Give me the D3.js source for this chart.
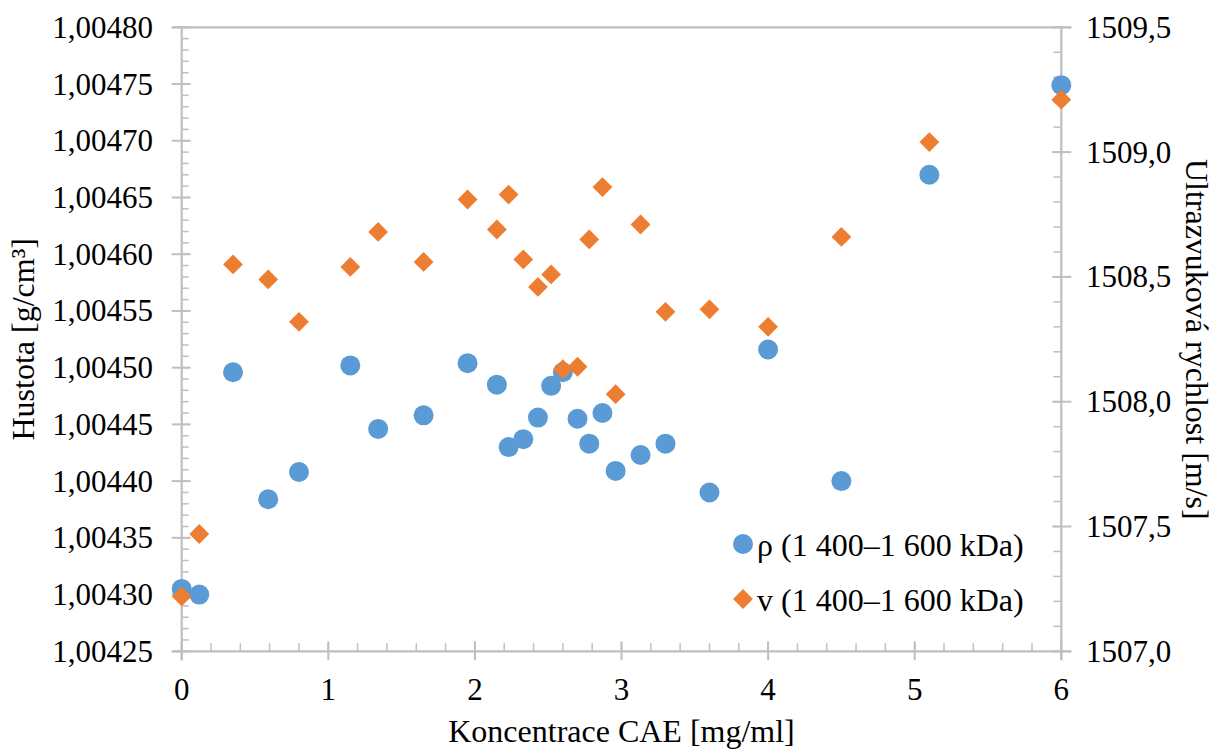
<!DOCTYPE html>
<html>
<head>
<meta charset="utf-8">
<script src="https://cdn.jsdelivr.net/npm/d3@7"></script>
<style>
  html, body { margin: 0; padding: 0; background: #fff; }
  svg { display: block; font-family: "Liberation Serif", "Times New Roman", serif; }
</style>
</head>
<body>
<svg id="chart" width="1214" height="749"></svg>
<script>
// Concentration of CAE [mg/ml]
const concentration = [0, 0.12, 0.35, 0.59, 0.80, 1.15, 1.34, 1.65, 1.95, 2.15, 2.23, 2.33, 2.43,
  2.52, 2.60, 2.70, 2.78, 2.87, 2.96, 3.13, 3.30, 3.60, 4.00, 4.50, 5.10, 6.00];

// Density ρ [g/cm³]
const density = [1.004305, 1.004300, 1.004496, 1.004384, 1.004408, 1.004502, 1.004446, 1.004458,
  1.004504, 1.004485, 1.004430, 1.004437, 1.004456, 1.004484, 1.004496, 1.004455, 1.004433,
  1.004460, 1.004409, 1.004423, 1.004433, 1.004390, 1.004516, 1.004400, 1.004670, 1.004749];

// Ultrasonic velocity v [m/s]
const velocity = [1507.22, 1507.47, 1508.55, 1508.49, 1508.32, 1508.54, 1508.68, 1508.56,
  1508.81, 1508.69, 1508.83, 1508.57, 1508.46, 1508.51, 1508.13, 1508.14, 1508.65, 1508.86,
  1508.03, 1508.71, 1508.36, 1508.37, 1508.30, 1508.66, 1509.04, 1509.21];

const xTicks = [0, 1, 2, 3, 4, 5, 6];
const densityTicks = [1.00425, 1.00430, 1.00435, 1.00440, 1.00445, 1.00450, 1.00455,
  1.00460, 1.00465, 1.00470, 1.00475, 1.00480];
const velocityTicks = [1507.0, 1507.5, 1508.0, 1508.5, 1509.0, 1509.5];

const seriesNames = ["ρ (1 400–1 600 kDa)", "v (1 400–1 600 kDa)"];
const colors = ["#5b9bd5", "#ed7d31"];

const svg = d3.select("#chart");
const plotLeft = 181.7, plotRight = 1061.3, plotTop = 27.3, plotBottom = 651.3;
const axisColor = "#bfbfbf";

const x = d3.scaleLinear().domain([0, 6]).range([plotLeft, plotRight]);
const yL = d3.scaleLinear().domain([1.00425, 1.00480]).range([plotBottom, plotTop]);
const yR = d3.scaleLinear().domain([1507.0, 1509.5]).range([plotBottom, plotTop]);

const comma = (digits) => (v) => d3.format("." + digits + "f")(v).replace(".", ",");

const g = svg.append("g");

// Left axis minor ticks (inside)
const leftMinor = d3.range(0, 56).map(i => 1.00425 + i * 0.00001);
g.selectAll(".lminor").data(leftMinor).join("line")
  .attr("x1", plotLeft).attr("x2", plotLeft + 7)
  .attr("y1", d => yL(d)).attr("y2", d => yL(d))
  .attr("stroke", axisColor).attr("stroke-width", 1.5);

// Right axis minor ticks (inside)
const rightMinor = d3.range(0, 26).map(i => 1507 + i * 0.1);
g.selectAll(".rminor").data(rightMinor).join("line")
  .attr("x1", plotRight - 8).attr("x2", plotRight)
  .attr("y1", d => yR(d)).attr("y2", d => yR(d))
  .attr("stroke", axisColor).attr("stroke-width", 1.5);

// Bottom axis minor ticks (inside)
const xMinor = d3.range(0, 31).map(i => i * 0.2);
g.selectAll(".xminor").data(xMinor).join("line")
  .attr("x1", d => x(d)).attr("x2", d => x(d))
  .attr("y1", plotBottom).attr("y2", plotBottom - 8)
  .attr("stroke", axisColor).attr("stroke-width", 1.5);

// Axis lines
g.append("line").attr("x1", plotLeft - 10).attr("x2", plotRight + 10).attr("y1", plotBottom).attr("y2", plotBottom)
  .attr("stroke", axisColor).attr("stroke-width", 2.2);
g.append("line").attr("x1", plotLeft - 10).attr("x2", plotRight + 10).attr("y1", plotTop).attr("y2", plotTop)
  .attr("stroke", axisColor).attr("stroke-width", 2.2);
g.append("line").attr("x1", plotLeft).attr("x2", plotLeft).attr("y1", plotTop).attr("y2", plotBottom + 9)
  .attr("stroke", axisColor).attr("stroke-width", 2.2);
g.append("line").attr("x1", plotRight).attr("x2", plotRight).attr("y1", plotTop).attr("y2", plotBottom + 9)
  .attr("stroke", axisColor).attr("stroke-width", 2.2);

// Major ticks crossing the axes
g.selectAll(".lmajor").data(densityTicks).join("line")
  .attr("x1", plotLeft - 10).attr("x2", plotLeft + 9)
  .attr("y1", d => yL(d)).attr("y2", d => yL(d))
  .attr("stroke", axisColor).attr("stroke-width", 2);
g.selectAll(".rmajor").data(velocityTicks).join("line")
  .attr("x1", plotRight - 9).attr("x2", plotRight + 10)
  .attr("y1", d => yR(d)).attr("y2", d => yR(d))
  .attr("stroke", axisColor).attr("stroke-width", 2);
g.selectAll(".xmajor").data(xTicks).join("line")
  .attr("x1", d => x(d)).attr("x2", d => x(d))
  .attr("y1", plotBottom - 10).attr("y2", plotBottom + 9)
  .attr("stroke", axisColor).attr("stroke-width", 2);

// Tick labels
const labels = svg.append("g").attr("fill", "#000");
labels.selectAll(".ll").data(densityTicks).join("text")
  .attr("x", 153).attr("y", d => yL(d)).attr("dy", "0.34em")
  .attr("text-anchor", "end").attr("font-size", 31)
  .text(comma(5));
labels.selectAll(".rl").data(velocityTicks).join("text")
  .attr("x", 1086).attr("y", d => yR(d)).attr("dy", "0.34em")
  .attr("text-anchor", "start").attr("font-size", 31)
  .text(comma(1));
labels.selectAll(".xl").data(xTicks).join("text")
  .attr("x", d => x(d)).attr("y", 700)
  .attr("text-anchor", "middle").attr("font-size", 31)
  .text(d => d);

// Axis titles
labels.append("text")
  .attr("transform", `translate(34,${(plotTop + plotBottom) / 2}) rotate(-90)`)
  .attr("text-anchor", "middle").attr("font-size", 32)
  .text("Hustota [g/cm³]");
labels.append("text")
  .attr("transform", `translate(1186,${(plotTop + plotBottom) / 2}) rotate(90)`)
  .attr("text-anchor", "middle").attr("font-size", 32)
  .text("Ultrazvuková rychlost [m/s]");
labels.append("text")
  .attr("x", (plotLeft + plotRight) / 2).attr("y", 742)
  .attr("text-anchor", "middle").attr("font-size", 32)
  .text("Koncentrace CAE [mg/ml]");

// Data points: density circles, then velocity diamonds on top
const diamond = d3.symbol().type(d3.symbolDiamond2).size(250);
const marks = svg.append("g");
marks.selectAll(".rho").data(concentration).join("circle")
  .attr("cx", d => x(d)).attr("cy", (d, i) => yL(density[i]))
  .attr("r", 10).attr("fill", colors[0]);
marks.selectAll(".vel").data(concentration).join("path")
  .attr("d", diamond)
  .attr("transform", (d, i) => `translate(${x(d)},${yR(velocity[i])})`)
  .attr("fill", colors[1]);

// Legend
const legend = svg.append("g");
legend.append("circle").attr("cx", 743).attr("cy", 544).attr("r", 10).attr("fill", colors[0]);
legend.append("path").attr("d", diamond).attr("transform", "translate(743,599)").attr("fill", colors[1]);
legend.append("text").attr("x", 757).attr("y", 556).attr("font-size", 32).text(seriesNames[0]);
legend.append("text").attr("x", 757).attr("y", 611).attr("font-size", 32).text(seriesNames[1]);
</script>
</body>
</html>
